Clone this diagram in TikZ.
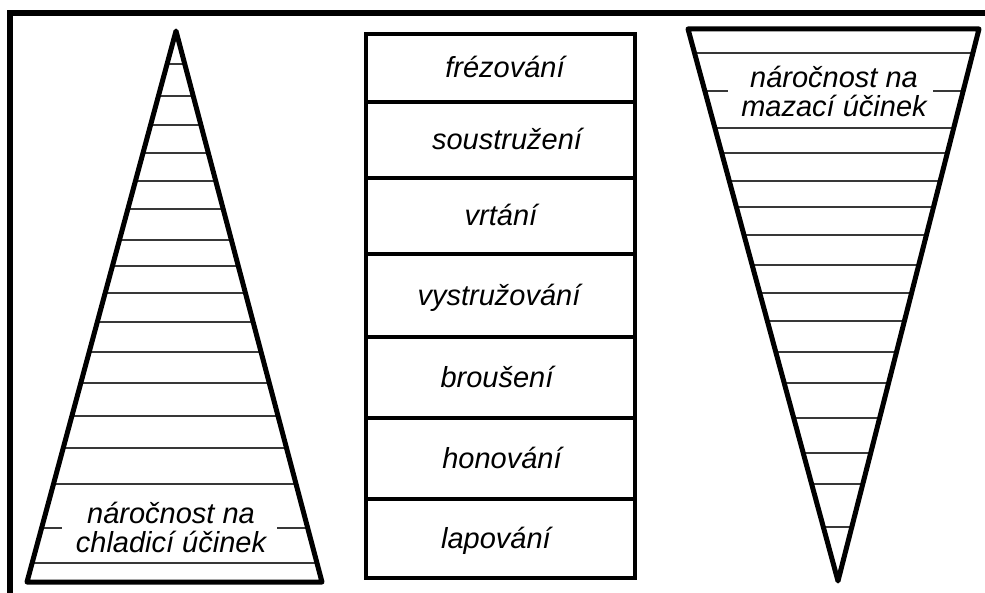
\documentclass[tikz,border=0pt]{standalone}
\usepackage{fontspec}
\setmainfont{Liberation Sans}
\begin{document}
\begin{tikzpicture}[x=1pt,y=-1pt,
  frameline/.style={line width=6pt, line join=miter},
  side/.style={line width=5pt, line join=round},
  rung/.style={line width=1.6pt, draw=black!78},
  cellbox/.style={draw, line width=3.5pt, minimum width=269pt, inner sep=0pt},
  lbl/.style={font=\fontsize{29}{29}\selectfont\itshape, inner sep=0pt, anchor=base},
  cover/.style={fill=white, inner sep=0pt}
]
\useasboundingbox (0,0) rectangle (985,593);

% outer frame (top and left edges)
\coordinate (F1) at (10,593);
\coordinate (F2) at (10,13);
\coordinate (F3) at (985,13);
\draw[frameline] (F1) -- (F2) -- (F3);

% left triangle: cooling demand
\coordinate (LA) at (176,31);
\coordinate (LB) at (27,582);
\coordinate (LC) at (322,582);
\begin{scope}
  \clip (LA) -- (LB) -- (LC) -- cycle;
  \foreach \y in {64,96,125,153,181,209,240,266,293,322,352,383,416,448,484,528,563}
    \draw[rung] (0,\y) -- (340,\y);
\end{scope}
\node[cover, minimum width=215pt, minimum height=67pt] (lcover) at (169.5,523.5) {};
\node[lbl] (lt1) at (171,523) {náročnost na};
\node[lbl] (lt2) at (171,552) {chladicí účinek};
\draw[side] (LA) -- (LB) -- (LC) -- cycle;

% right triangle: lubrication demand
\coordinate (RA) at (688,29);
\coordinate (RB) at (979,29);
\coordinate (RC) at (838,581);
\begin{scope}
  \clip (RA) -- (RB) -- (RC) -- cycle;
  \foreach \y in {53,91,128,153,181,207,235,265,293,321,352,383,418,453,484,527}
    \draw[rung] (660,\y) -- (985,\y);
\end{scope}
\node[cover, minimum width=205pt, minimum height=67pt] (rcover) at (830.5,90.5) {};
\node[lbl] (rt1) at (834,88) {náročnost na};
\node[lbl] (rt2) at (834,117) {mazací účinek};
\draw[side] (RA) -- (RB) -- (RC) -- cycle;

% middle column of machining operations
\node[cellbox, minimum height=68pt] (c1) at (500.5,68) {};
\node[cellbox, minimum height=76pt] (c2) at (500.5,140) {};
\node[cellbox, minimum height=76pt] (c3) at (500.5,216) {};
\node[cellbox, minimum height=83pt] (c4) at (500.5,295.5) {};
\node[cellbox, minimum height=81pt] (c5) at (500.5,377.5) {};
\node[cellbox, minimum height=81pt] (c6) at (500.5,458.5) {};
\node[cellbox, minimum height=79pt] (c7) at (500.5,538.5) {};

\node[lbl] (t1) at (505,78) {frézování};
\node[lbl] (t2) at (507,150) {soustružení};
\node[lbl] (t3) at (501,226) {vrtání};
\node[lbl] (t4) at (499,305.5) {vystružování};
\node[lbl] (t5) at (497,387.5) {broušení};
\node[lbl] (t6) at (502,468.5) {honování};
\node[lbl] (t7) at (496,548.5) {lapování};
\end{tikzpicture}
\end{document}
